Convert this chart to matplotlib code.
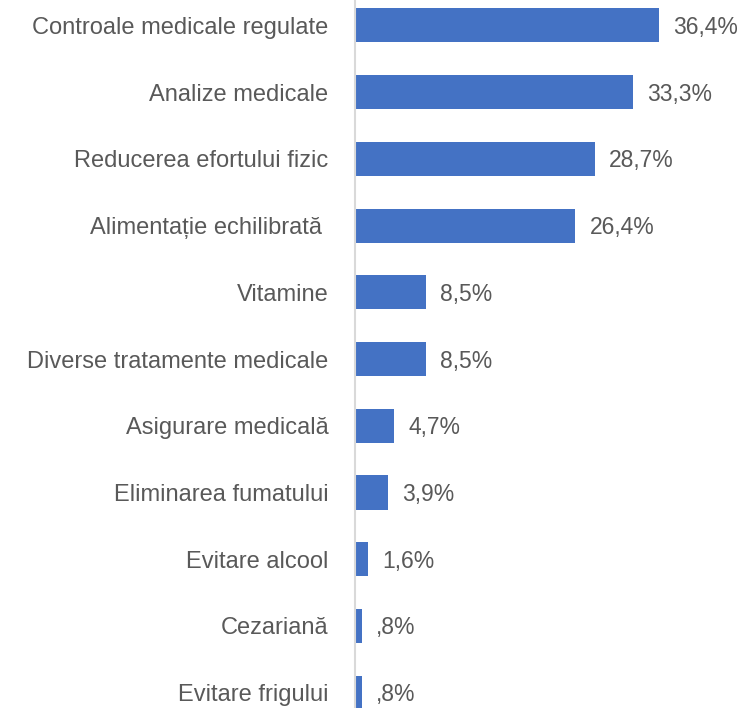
import matplotlib
matplotlib.use("Agg")
import matplotlib.pyplot as plt

# Categories and values (percent), top to bottom
categories = [
    "Controale medicale regulate",
    "Analize medicale",
    "Reducerea efortului fizic",
    "Alimentație echilibrată ",
    "Vitamine",
    "Diverse tratamente medicale",
    "Asigurare medicală",
    "Eliminarea fumatului",
    "Evitare alcool",
    "Cezariană",
    "Evitare frigului",
]
values = [36.4, 33.3, 28.7, 26.4, 8.5, 8.5, 4.7, 3.9, 1.6, 0.8, 0.8]

bar_color = "#4472C4"
text_color = "#595959"

plt.rcParams["font.family"] = ["Liberation Sans", "DejaVu Sans"]

fig = plt.figure(figsize=(7.47, 7.08), dpi=100)
ax = fig.add_axes([355 / 747, 0, 392 / 747, 1])

ypos = list(range(len(categories)))
ax.barh(ypos, values, height=0.51, color=bar_color)

for y, v in zip(ypos, values):
    label = f"{v:.1f}".replace(".", ",")
    if label.startswith("0"):
        label = label[1:]
    ax.text(v + 1.7, y + 0.03, label + "%", va="center", ha="left",
            fontsize=16.5, color=text_color)

ax.set_xlim(0, 36.4 * 392 / 304)
ax.set_ylim(10.23, -0.382)
ax.set_yticks(ypos)
ax.set_yticklabels(categories, fontsize=17, color=text_color)
ax.tick_params(axis="y", length=0, pad=19)
ax.set_xticks([])

for side in ["top", "right", "bottom"]:
    ax.spines[side].set_visible(False)
ax.spines["left"].set_color("#D9D9D9")
ax.spines["left"].set_linewidth(1.5)

fig.savefig("out.png", dpi=100)
